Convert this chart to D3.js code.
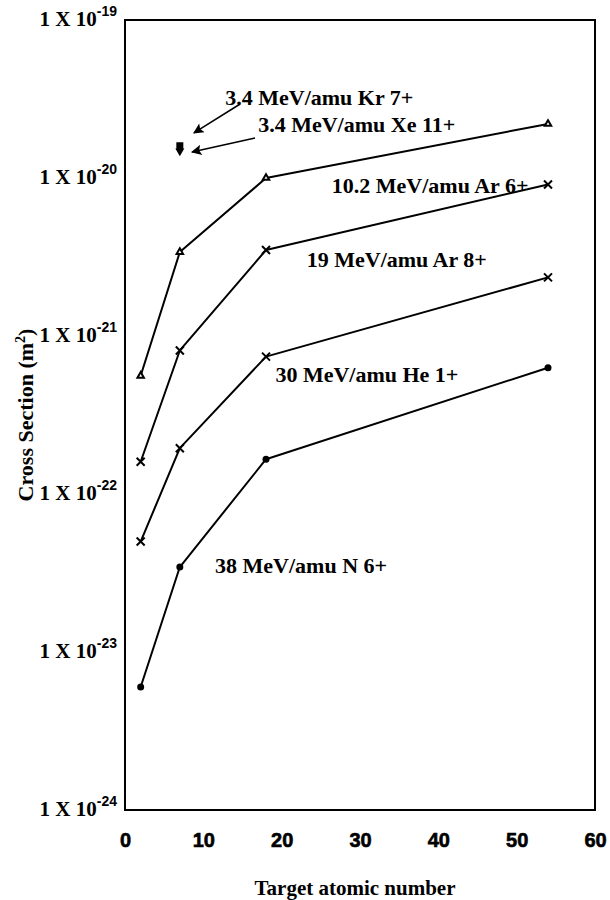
<!DOCTYPE html>
<html>
<head>
<meta charset="utf-8">
<script src="https://cdn.jsdelivr.net/npm/d3@7"></script>
<style>
  body { margin: 0; background: #fff; }
  svg { display: block; }
</style>
</head>
<body>
<div id="chart"></div>
<script>
// target atomic number (He, N, Ar, Xe)
const targetZ = [2, 7, 18, 54];

// cross sections, m^2
const ar6 = [5.6e-22, 3.4e-21, 1.0e-20, 2.2e-20];
const ar8 = [1.6e-22, 8.1e-22, 3.5e-21, 9.1e-21];
const he1 = [5.0e-23, 1.95e-22, 7.4e-22, 2.35e-21];
const n6 = [6.0e-24, 3.45e-23, 1.66e-22, 6.3e-22];

// single points at Z = 7
const krZ = 7, krValue = 1.6e-20;
const xeZ = 7, xeValue = 1.48e-20;

const xTicks = [0, 10, 20, 30, 40, 50, 60];
const yTicks = [1e-19, 1e-20, 1e-21, 1e-22, 1e-23, 1e-24];

const seriesNames = [
  "10.2 MeV/amu Ar 6+",
  "19 MeV/amu Ar 8+",
  "30 MeV/amu He 1+",
  "38 MeV/amu N 6+"
];
const krName = "3.4 MeV/amu Kr 7+";
const xeName = "3.4 MeV/amu Xe 11+";

const margin = { top: 20, right: 15, bottom: 90, left: 125 },
  totalWidth = 610,
  totalHeight = 900,
  width = totalWidth - margin.left - margin.right,
  height = totalHeight - margin.top - margin.bottom;

const svg = d3
  .select("#chart")
  .append("svg")
  .attr("width", totalWidth)
  .attr("height", totalHeight)
  .append("g")
  .attr("transform", "translate(" + margin.left + "," + margin.top + ")");

const x = d3.scaleLinear().domain([0, 60]).range([0, width]);
const y = d3.scaleLog().domain([1e-24, 1e-19]).range([height, 0]);

const serif = "'Liberation Serif', 'Times New Roman', serif";
const sans = "'Liberation Sans', Arial, sans-serif";

// frame
svg
  .append("rect")
  .attr("x", 0)
  .attr("y", 0)
  .attr("width", width)
  .attr("height", height)
  .attr("fill", "none")
  .attr("stroke", "#000")
  .attr("stroke-width", 2);

// x axis
const xAxis = svg
  .append("g")
  .attr("transform", "translate(0," + height + ")")
  .call(d3.axisBottom(x).tickValues(xTicks).tickSize(0).tickPadding(23));
xAxis.select(".domain").remove();
xAxis
  .selectAll("text")
  .attr("font-family", sans)
  .attr("font-weight", "bold")
  .attr("font-size", 20)
  .attr("fill", "#000")
  .attr("stroke", "#000")
  .attr("stroke-width", 0.6);

// y axis, labels as "1 X 10^n"
const yAxis = svg
  .append("g")
  .call(d3.axisLeft(y).tickValues(yTicks).tickSize(0).tickPadding(8).tickFormat(() => ""));
yAxis.select(".domain").remove();
yAxis.selectAll(".tick text").each(function (d) {
  const t = d3.select(this).attr("dy", "0.55em");
  t.append("tspan")
    .attr("font-family", serif)
    .attr("font-weight", "bold")
    .attr("font-size", 21)
    .text("1 X 10");
  t.append("tspan")
    .attr("font-family", sans)
    .attr("font-weight", "bold")
    .attr("font-size", 14)
    .attr("dy", "-0.75em")
    .text(Math.round(Math.log10(d)));
});
yAxis.selectAll(".tick text").attr("fill", "#000");

// axis titles
svg
  .append("text")
  .attr("x", width / 2 - 5)
  .attr("y", height + 85)
  .attr("text-anchor", "middle")
  .attr("font-family", serif)
  .attr("font-weight", "bold")
  .attr("font-size", 21)
  .text("Target atomic number");

const yTitle = svg
  .append("text")
  .attr("transform", "translate(" + -92 + "," + height / 2 + ") rotate(-90)")
  .attr("text-anchor", "middle")
  .attr("font-family", serif)
  .attr("font-weight", "bold")
  .attr("font-size", 22);
yTitle.append("tspan").text("Cross Section (m");
yTitle.append("tspan").attr("font-size", 14).attr("dy", "-0.6em").text("2");
yTitle.append("tspan").attr("dy", "0.4em").text(")");

// lines
const line = d3
  .line()
  .x((d, i) => x(targetZ[i]))
  .y((d) => y(d));

const allSeries = [ar6, ar8, he1, n6];
allSeries.forEach((s) => {
  svg
    .append("path")
    .datum(s)
    .attr("fill", "none")
    .attr("stroke", "#000")
    .attr("stroke-width", 2)
    .attr("stroke-linejoin", "round")
    .attr("d", line);
});

// markers
const triangle = d3.symbol().type(d3.symbolTriangle).size(18);
svg
  .selectAll(".tri")
  .data(ar6)
  .join("path")
  .attr("transform", (d, i) => "translate(" + x(targetZ[i]) + "," + y(d) + ")")
  .attr("d", triangle)
  .attr("fill", "#fff")
  .attr("stroke", "#000")
  .attr("stroke-width", 2);

[ar8, he1].forEach((s) => {
  svg
    .selectAll(null)
    .data(s)
    .join("path")
    .attr("transform", (d, i) => "translate(" + x(targetZ[i]) + "," + y(d) + ")")
    .attr("d", "M-4,-4L4,4M-4,4L4,-4")
    .attr("stroke", "#000")
    .attr("stroke-width", 2);
});

svg
  .selectAll(null)
  .data(n6)
  .join("circle")
  .attr("cx", (d, i) => x(targetZ[i]))
  .attr("cy", (d) => y(d))
  .attr("r", 3.5)
  .attr("fill", "#000");

// Kr (square) and Xe (down triangle) single points
svg
  .append("rect")
  .attr("x", x(krZ) - 3.5)
  .attr("y", y(krValue) - 3.5)
  .attr("width", 7)
  .attr("height", 7)
  .attr("fill", "#000");
svg
  .append("path")
  .attr("transform", "translate(" + x(xeZ) + "," + y(xeValue) + ") rotate(180)")
  .attr("d", d3.symbol().type(d3.symbolTriangle).size(35))
  .attr("fill", "#000");

// labels, anchored in data space
const labelPos = [
  { z: 26.4, v: 8.0e-21 },
  { z: 23.2, v: 2.73e-21 },
  { z: 19.2, v: 5.1e-22 },
  { z: 11.5, v: 3.16e-23 }
];
const labelFont = (sel) =>
  sel
    .attr("font-family", serif)
    .attr("font-weight", "bold")
    .attr("font-size", 22)
    .attr("fill", "#000");

seriesNames.forEach((name, i) => {
  svg
    .append("text")
    .attr("x", x(labelPos[i].z))
    .attr("y", y(labelPos[i].v))
    .call(labelFont)
    .text(name);
});

svg.append("text").attr("x", x(12.8)).attr("y", y(2.9e-20)).call(labelFont).text(krName);
svg.append("text").attr("x", x(17.0)).attr("y", y(1.95e-20)).call(labelFont).text(xeName);

// arrows
svg
  .append("defs")
  .append("marker")
  .attr("id", "head")
  .attr("viewBox", "0 0 10 10")
  .attr("refX", 9)
  .attr("refY", 5)
  .attr("markerWidth", 9)
  .attr("markerHeight", 7)
  .attr("markerUnits", "strokeWidth")
  .attr("orient", "auto")
  .append("path")
  .attr("d", "M0,0L10,5L0,10L2,5Z")
  .attr("fill", "#000");

const arrows = [
  { from: [14.7, 2.94e-20], to: [8.8, 1.93e-20] },
  { from: [16.6, 1.79e-20], to: [8.55, 1.46e-20] }
];
arrows.forEach((a) => {
  svg
    .append("line")
    .attr("x1", x(a.from[0]))
    .attr("y1", y(a.from[1]))
    .attr("x2", x(a.to[0]))
    .attr("y2", y(a.to[1]))
    .attr("stroke", "#000")
    .attr("stroke-width", 1.5)
    .attr("marker-end", "url(#head)");
});
</script>
</body>
</html>
